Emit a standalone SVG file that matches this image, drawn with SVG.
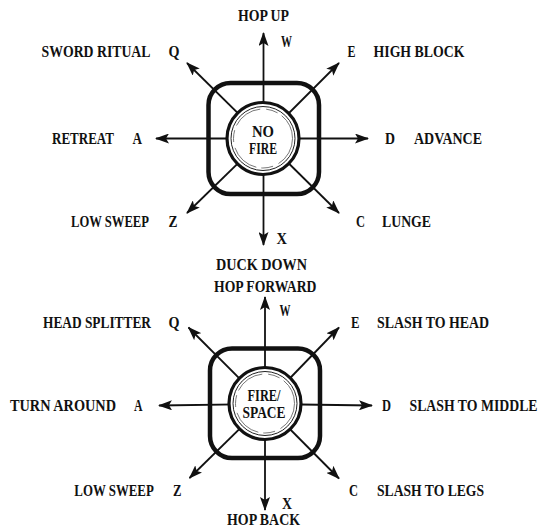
<svg xmlns="http://www.w3.org/2000/svg" width="542" height="528" viewBox="0 0 542 528">
<defs>
<style>
text{font-family:"Liberation Serif","Times New Roman",serif;font-weight:bold;font-size:14px;fill:#111;}
.c{text-anchor:middle;}
.ln{stroke:#111;stroke-width:1.8;fill:none;}
.sq{fill:none;stroke:#111;stroke-width:4.5;}
.ring{fill:#fff;stroke:#111;stroke-width:3.2;}
.thin{fill:none;stroke:#222;stroke-width:1;}
.thin2{fill:none;stroke:#555;stroke-width:0.8;}
</style>
<marker id="ah" viewBox="0 0 14 10" refX="13" refY="5" markerWidth="14" markerHeight="10" markerUnits="userSpaceOnUse" orient="auto">
<path d="M0,0 L14,5 L0,10 L3,5 Z" fill="#111"/>
</marker>
</defs>
<rect width="542" height="528" fill="#fff"/>

<g id="connectors">
<line class="ln" x1="263.5" y1="138.5" x2="263.5" y2="33" marker-end="url(#ah)"/>
<line class="ln" x1="263.5" y1="138.5" x2="263.5" y2="245" marker-end="url(#ah)"/>
<line class="ln" x1="263.5" y1="138.5" x2="156" y2="138.5" marker-end="url(#ah)"/>
<line class="ln" x1="263.5" y1="138.5" x2="368" y2="138.5" marker-end="url(#ah)"/>
<line class="ln" x1="263.5" y1="138.5" x2="187" y2="63" marker-end="url(#ah)"/>
<line class="ln" x1="263.5" y1="138.5" x2="339" y2="63" marker-end="url(#ah)"/>
<line class="ln" x1="263.5" y1="138.5" x2="187" y2="213" marker-end="url(#ah)"/>
<line class="ln" x1="263.5" y1="138.5" x2="339" y2="213" marker-end="url(#ah)"/>
<line class="ln" x1="265" y1="404" x2="265" y2="297" marker-end="url(#ah)"/>
<line class="ln" x1="265" y1="404" x2="265" y2="510" marker-end="url(#ah)"/>
<line class="ln" x1="265" y1="404" x2="159" y2="405.5" marker-end="url(#ah)"/>
<line class="ln" x1="265" y1="404" x2="372" y2="405.5" marker-end="url(#ah)"/>
<line class="ln" x1="265" y1="404" x2="188.5" y2="327.5" marker-end="url(#ah)"/>
<line class="ln" x1="265" y1="404" x2="339" y2="327.5" marker-end="url(#ah)"/>
<line class="ln" x1="265" y1="404" x2="189.5" y2="478" marker-end="url(#ah)"/>
<line class="ln" x1="265" y1="404" x2="339" y2="478.5" marker-end="url(#ah)"/>
</g>

<g id="joystick-top">
<rect class="sq" x="208.5" y="83" width="110.5" height="111" rx="22"/>
<circle class="ring" cx="263" cy="138.5" r="36"/>
<circle class="thin" cx="263" cy="138.5" r="32"/>
<circle class="thin2" cx="263" cy="138.5" r="29.5" stroke-dasharray="30 6 12 5"/>
<text class="c" transform="translate(263,137) scale(1,1.2)" textLength="22" lengthAdjust="spacingAndGlyphs">NO</text>
<text class="c" transform="translate(263,154) scale(1,1.2)" textLength="28" lengthAdjust="spacingAndGlyphs">FIRE</text>
</g>

<g id="joystick-bottom">
<rect class="sq" x="210" y="348.5" width="110" height="109.5" rx="22"/>
<circle class="ring" cx="265" cy="403.5" r="36"/>
<circle class="thin" cx="265" cy="403.5" r="32"/>
<circle class="thin2" cx="265" cy="403.5" r="29.5" stroke-dasharray="30 6 12 5"/>
<text class="c" transform="translate(264,401) scale(1,1.2)" textLength="33" lengthAdjust="spacingAndGlyphs">FIRE/</text>
<text class="c" transform="translate(264,418) scale(1,1.2)" textLength="43" lengthAdjust="spacingAndGlyphs">SPACE</text>
</g>

<g id="labels-top">
<text transform="translate(238,21) scale(1,1.15)" textLength="51" lengthAdjust="spacingAndGlyphs">HOP UP</text>
<text transform="translate(281,47) scale(1,1.15)" textLength="11" lengthAdjust="spacingAndGlyphs">W</text>
<text transform="translate(41.5,57) scale(1,1.15)" textLength="109" lengthAdjust="spacingAndGlyphs">SWORD RITUAL</text>
<text transform="translate(168.5,57) scale(1,1.15)" textLength="11" lengthAdjust="spacingAndGlyphs">Q</text>
<text transform="translate(347.5,57) scale(1,1.15)" textLength="8" lengthAdjust="spacingAndGlyphs">E</text>
<text transform="translate(373.5,57) scale(1,1.15)" textLength="91" lengthAdjust="spacingAndGlyphs">HIGH BLOCK</text>
<text transform="translate(52,144) scale(1,1.15)" textLength="62" lengthAdjust="spacingAndGlyphs">RETREAT</text>
<text transform="translate(132.5,144) scale(1,1.15)" textLength="9.5" lengthAdjust="spacingAndGlyphs">A</text>
<text transform="translate(385,144) scale(1,1.15)" textLength="10" lengthAdjust="spacingAndGlyphs">D</text>
<text transform="translate(414,144) scale(1,1.15)" textLength="68" lengthAdjust="spacingAndGlyphs">ADVANCE</text>
<text transform="translate(71,227) scale(1,1.15)" textLength="78" lengthAdjust="spacingAndGlyphs">LOW SWEEP</text>
<text transform="translate(168.5,227) scale(1,1.15)" textLength="9" lengthAdjust="spacingAndGlyphs">Z</text>
<text transform="translate(356,227) scale(1,1.15)" textLength="9" lengthAdjust="spacingAndGlyphs">C</text>
<text transform="translate(382,227) scale(1,1.15)" textLength="49" lengthAdjust="spacingAndGlyphs">LUNGE</text>
<text transform="translate(276.5,244) scale(1,1.15)" textLength="10.5" lengthAdjust="spacingAndGlyphs">X</text>
<text transform="translate(216,270) scale(1,1.15)" textLength="91" lengthAdjust="spacingAndGlyphs">DUCK DOWN</text>
</g>

<g id="labels-bottom">
<text transform="translate(214,292) scale(1,1.15)" textLength="102.5" lengthAdjust="spacingAndGlyphs">HOP FORWARD</text>
<text transform="translate(279.5,316) scale(1,1.15)" textLength="11" lengthAdjust="spacingAndGlyphs">W</text>
<text transform="translate(43,327.5) scale(1,1.15)" textLength="108" lengthAdjust="spacingAndGlyphs">HEAD SPLITTER</text>
<text transform="translate(168.5,327.5) scale(1,1.15)" textLength="11" lengthAdjust="spacingAndGlyphs">Q</text>
<text transform="translate(351,327.5) scale(1,1.15)" textLength="8.5" lengthAdjust="spacingAndGlyphs">E</text>
<text transform="translate(377,327.5) scale(1,1.15)" textLength="112" lengthAdjust="spacingAndGlyphs">SLASH TO HEAD</text>
<text transform="translate(10,411) scale(1,1.15)" textLength="106" lengthAdjust="spacingAndGlyphs">TURN AROUND</text>
<text transform="translate(134,411) scale(1,1.15)" textLength="8.5" lengthAdjust="spacingAndGlyphs">A</text>
<text transform="translate(382,411) scale(1,1.15)" textLength="9" lengthAdjust="spacingAndGlyphs">D</text>
<text transform="translate(409.5,411) scale(1,1.15)" textLength="128" lengthAdjust="spacingAndGlyphs">SLASH TO MIDDLE</text>
<text transform="translate(74.3,496) scale(1,1.15)" textLength="79.5" lengthAdjust="spacingAndGlyphs">LOW SWEEP</text>
<text transform="translate(173,496) scale(1,1.15)" textLength="8.5" lengthAdjust="spacingAndGlyphs">Z</text>
<text transform="translate(349,496) scale(1,1.15)" textLength="9" lengthAdjust="spacingAndGlyphs">C</text>
<text transform="translate(377,496) scale(1,1.15)" textLength="107" lengthAdjust="spacingAndGlyphs">SLASH TO LEGS</text>
<text transform="translate(282,509) scale(1,1.15)" textLength="10" lengthAdjust="spacingAndGlyphs">X</text>
<text transform="translate(227,525) scale(1,1.15)" textLength="73" lengthAdjust="spacingAndGlyphs">HOP BACK</text>
</g>
</svg>
